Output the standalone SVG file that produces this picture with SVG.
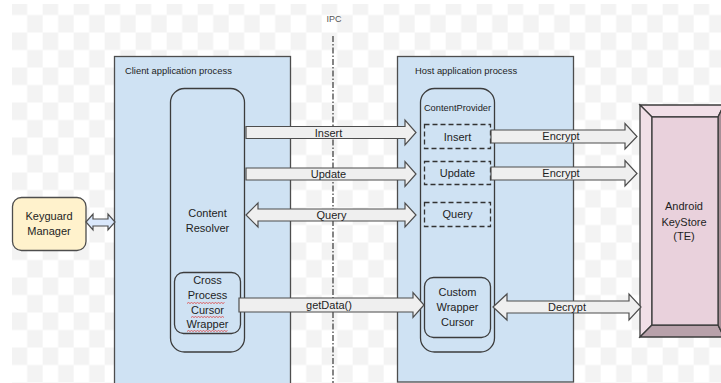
<svg xmlns="http://www.w3.org/2000/svg" width="721" height="383" viewBox="0 0 721 383">
<style>
text{font-family:"Liberation Sans",Arial,sans-serif;fill:#1e1e1e;text-anchor:middle}
.proc{fill:#cfe2f3;stroke:#4d4d4d;stroke-width:1.3}
.inner{fill:#cfe2f3;stroke:#3c3c3c;stroke-width:1.3}
.dash{fill:#cfe2f3;stroke:#333;stroke-width:1.3;stroke-dasharray:5 3}
.arrow{fill:#efefef;stroke:#4d4d4d;stroke-width:1.2;stroke-linejoin:miter}
.lbl{font-size:11px}
.small{font-size:9.4px;text-anchor:start}
.wave{fill:none;stroke:#e04040;stroke-width:0.8}
</style>
<defs>
<pattern id="checker" patternUnits="userSpaceOnUse" x="11.7" y="-2.5" width="31" height="35">
<rect x="0" y="0" width="15.5" height="17.5" fill="#f3f3f3"/>
<rect x="15.5" y="17.5" width="15.5" height="17.5" fill="#f3f3f3"/>
</pattern>
</defs>
<rect x="0" y="0" width="721" height="383" fill="#ffffff"/>
<rect x="12" y="4" width="709" height="379" fill="url(#checker)"/>

<g id="ipc">
<text x="334" y="22" style="font-size:9px;fill:#555">IPC</text>
<line x1="333" y1="36" x2="333" y2="383" stroke="#444" stroke-width="1.3" stroke-dasharray="6 2 1.5 2"/>
</g>

<g id="client-process">
<rect class="proc" x="114.5" y="56.5" width="176" height="330"/>
<text class="small" x="125" y="74">Client application process</text>
</g>

<g id="host-process">
<rect class="proc" x="397.5" y="56.5" width="176" height="325.5"/>
<text class="small" x="415" y="74">Host application process</text>
</g>

<g id="content-resolver">
<rect class="inner" x="170.5" y="88.5" width="74" height="263.5" rx="14"/>
<text class="lbl" x="207.5" y="216.5">Content</text>
<text class="lbl" x="207.5" y="231.5">Resolver</text>
</g>

<g id="cross-process-cursor-wrapper">
<rect class="inner" x="174.5" y="272.5" width="66" height="61" rx="9"/>
<text class="lbl" x="207.5" y="284">Cross</text>
<text class="lbl" x="207.5" y="298.5">Process</text>
<text class="lbl" x="207.5" y="313.5">Cursor</text>
<text class="lbl" x="207.5" y="328">Wrapper</text>
<path class="wave" d="M187,303.5 l1.5,-1 l1.5,1 l1.5,-1 l1.5,1 l1.5,-1 l1.5,1 l1.5,-1 l1.5,1 l1.5,-1 l1.5,1 l1.5,-1 l1.5,1 l1.5,-1 l1.5,1 l1.5,-1 l1.5,1 l1.5,-1 l1.5,1 l1.5,-1 l1.5,1 l1.5,-1 l1.5,1 l1.5,-1 l1.5,1 l1.5,-1"/>
<path class="wave" d="M191,317.5 l1.5,-1 l1.5,1 l1.5,-1 l1.5,1 l1.5,-1 l1.5,1 l1.5,-1 l1.5,1 l1.5,-1 l1.5,1 l1.5,-1 l1.5,1 l1.5,-1 l1.5,1 l1.5,-1 l1.5,1 l1.5,-1 l1.5,1 l1.5,-1 l1.5,1 l1.5,-1 l1.5,1"/>
<path class="wave" d="M187,331.5 l1.5,-1 l1.5,1 l1.5,-1 l1.5,1 l1.5,-1 l1.5,1 l1.5,-1 l1.5,1 l1.5,-1 l1.5,1 l1.5,-1 l1.5,1 l1.5,-1 l1.5,1 l1.5,-1 l1.5,1 l1.5,-1 l1.5,1 l1.5,-1 l1.5,1 l1.5,-1 l1.5,1 l1.5,-1 l1.5,1 l1.5,-1 l1.5,1 l1.5,-1"/>
</g>

<g id="content-provider">
<rect class="inner" x="420.5" y="88.5" width="74" height="263.5" rx="14"/>
<text x="457.5" y="110.5" style="font-size:9.3px">ContentProvider</text>
</g>

<g id="cp-insert">
<rect class="dash" x="424.5" y="124.5" width="66" height="24"/>
<text class="lbl" x="457.5" y="140.5">Insert</text>
</g>

<g id="cp-update">
<rect class="dash" x="424.5" y="161.5" width="66" height="23"/>
<text class="lbl" x="457.5" y="177">Update</text>
</g>

<g id="cp-query">
<rect class="dash" x="424.5" y="202.5" width="66" height="24"/>
<text class="lbl" x="457.5" y="218">Query</text>
</g>

<g id="custom-wrapper-cursor">
<rect class="inner" x="424.5" y="277.5" width="66" height="60" rx="9"/>
<text class="lbl" x="457.5" y="295.5">Custom</text>
<text class="lbl" x="457.5" y="310.5">Wrapper</text>
<text class="lbl" x="457.5" y="325.5">Cursor</text>
</g>

<g id="keyguard-manager">
<rect x="12.5" y="197.5" width="73.5" height="53" rx="9" fill="#fff2cc" stroke="#4d4d4d" stroke-width="1.3"/>
<text class="lbl" x="49" y="219.5">Keyguard</text>
<text class="lbl" x="49" y="235">Manager</text>
</g>

<g id="android-keystore">
<polygon points="640,105 724,105 718,117 652,117" fill="#f1dfe7" stroke="#3c3c3c" stroke-width="1.3"/>
<polygon points="640,105 652,117 652,325 640,337" fill="#f1dfe7" stroke="#3c3c3c" stroke-width="1.3"/>
<polygon points="640,337 652,325 718,325 724,337" fill="#b8a1aa" stroke="#3c3c3c" stroke-width="1.3"/>
<polygon points="718,117 724,105 724,337 718,325" fill="#a89098" stroke="#3c3c3c" stroke-width="1.3"/>
<rect x="652" y="117" width="66" height="208" fill="#e9d1dc" stroke="#3c3c3c" stroke-width="1.3"/>
<text class="lbl" x="684" y="210">Android</text>
<text class="lbl" x="684" y="226">KeyStore</text>
<text class="lbl" x="684" y="240">(TE)</text>
</g>

<g id="connectors">
<polygon class="arrow" points="246,126.5 405,126.5 405,120 416,132.5 405,145 405,138.5 246,138.5"/>
<text class="lbl" x="328.5" y="136.5">Insert</text>
<polygon class="arrow" points="246,168 405,168 405,161.5 416,174 405,186.5 405,180 246,180"/>
<text class="lbl" x="328.5" y="178">Update</text>
<polygon class="arrow" points="246,215 258,203 258,209 405,209 405,203 416,215 405,227 405,221 258,221 258,227"/>
<text class="lbl" x="331.5" y="219">Query</text>
<polygon class="arrow" points="239,298 413,298 413,292.5 424,305 413,317.5 413,312 239,312"/>
<text class="lbl" x="329" y="309">getData()</text>
<polygon class="arrow" points="491,130 625,130 625,123.5 637,136.5 625,149 625,143 491,143"/>
<text class="lbl" x="561" y="139.5">Encrypt</text>
<polygon class="arrow" points="491,167 625,167 625,160.5 637,173.5 625,186 625,180 491,180"/>
<text class="lbl" x="561" y="177">Encrypt</text>
<polygon class="arrow" points="493,307 507,294 507,301 629,301 629,294 641,307 629,320 629,313 507,313 507,320"/>
<text class="lbl" x="567" y="310.5">Decrypt</text>
<polygon points="86,222 93,214 93,219 108,219 108,214 115,222 108,230 108,226 93,226 93,230" fill="#dae8fc" stroke="#4d4d4d" stroke-width="1.2"/>
</g>
</svg>
